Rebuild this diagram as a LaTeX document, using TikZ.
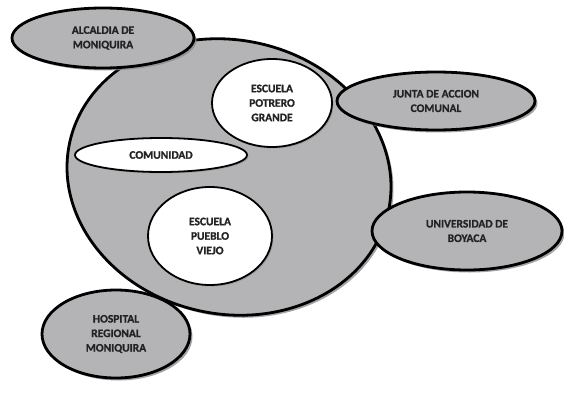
\documentclass[tikz,border=0pt]{standalone}
\usepackage{fontspec}
\setmainfont{Carlito}[BoldFont={Carlito Bold}, BoldFeatures={FakeBold=1}]
\usetikzlibrary{shapes.geometric,shadows}
\definecolor{fillgray}{RGB}{180,180,182}
\definecolor{txt}{RGB}{35,35,35}
\begin{document}
\begin{tikzpicture}[x=1pt,y=-1pt,
  lbl/.style={font=\fontsize{11.5}{14.5}\selectfont\bfseries, text=txt, align=center},
  shad/.style={drop shadow={shadow xshift=2.5pt, shadow yshift=-2.5pt, fill=black!45, opacity=0.8}},
  ent/.style={ellipse, draw=black, line width=2.8pt, fill=fillgray, inner sep=0pt, shad, lbl},
  inn/.style={ellipse, draw=black, line width=1.8pt, fill=white, inner sep=0pt,
    drop shadow={shadow xshift=1.5pt, shadow yshift=-1.5pt, fill=black!40, opacity=0.8}, lbl}]
\useasboundingbox (0,0) rectangle (564,396);
\node[ent, minimum width=326pt, minimum height=274pt, rotate=-12] (big) at (229,177) {};
\node[ent, minimum width=182pt, minimum height=60pt] (alc) at (103,38) {ALCALDIA DE\\MONIQUIRA};
\node[ent, minimum width=198pt, minimum height=58pt] (jac) at (436,101) {JUNTA DE ACCION\\COMUNAL};
\node[ent, minimum width=190pt, minimum height=78pt] (uni) at (467,231) {UNIVERSIDAD DE\\BOYACA};
\node[ent, minimum width=148pt, minimum height=88pt] (hos) at (116,334) {HOSPITAL\\REGIONAL\\MONIQUIRA};
\node[inn, minimum width=120pt, minimum height=88pt] (epg) at (272,103) {ESCUELA\\POTRERO\\GRANDE};
\node[inn, minimum width=172pt, minimum height=34pt] (com) at (161,155) {COMUNIDAD};
\node[inn, minimum width=124pt, minimum height=98pt] (epv) at (210,236) {ESCUELA\\PUEBLO\\VIEJO};
\end{tikzpicture}
\end{document}
